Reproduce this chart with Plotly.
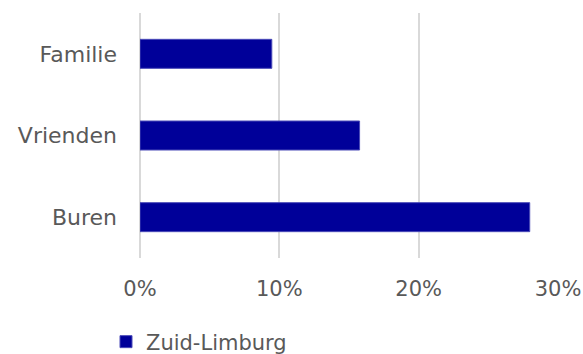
import plotly.graph_objects as go

categories = ["Buren", "Vrienden", "Familie"]
values = [0.2797, 0.1576, 0.0946]
series_name = "Zuid-Limburg"
tick_vals = [0, 0.1, 0.2, 0.3]
tick_text = ["0%", "10%", "20%", "30%"]

font_family = "DejaVu Sans, sans-serif"
grey = "#595959"
fs = 21

fig = go.Figure()
fig.add_trace(go.Bar(
    y=categories, x=values, orientation="h", name=series_name,
    marker=dict(color="#000099", line=dict(color="#4a4ab8", width=1)),
    width=0.355, showlegend=True,
))

fig.update_layout(
    width=583, height=354,
    margin=dict(l=140, r=25, t=13, b=96, autoexpand=False),
    paper_bgcolor="white", plot_bgcolor="white",
    font=dict(family=font_family, size=fs, color=grey),
    xaxis=dict(range=[0, 0.3], tickvals=tick_vals, ticktext=tick_text,
               showgrid=True, gridcolor="#d9d9d9", gridwidth=1.5,
               zeroline=True, zerolinecolor="#d9d9d9", zerolinewidth=1.5,
               showline=False, ticks="", ticklabelstandoff=16,
               automargin=False,
               tickfont=dict(size=fs, color=grey, family=font_family)),
    yaxis=dict(range=[-0.5, 2.5], showgrid=False, zeroline=False, showline=False,
               ticks="", ticklabelstandoff=22, automargin=False,
               tickfont=dict(size=22, color=grey, family=font_family)),
    legend=dict(orientation="h", xref="container", x=106/583, xanchor="left",
                yref="container", y=1 - 342/354, yanchor="middle",
                font=dict(size=fs, color=grey, family=font_family),
                itemwidth=30, tracegroupgap=0),
)

fig.write_html("out.html")
